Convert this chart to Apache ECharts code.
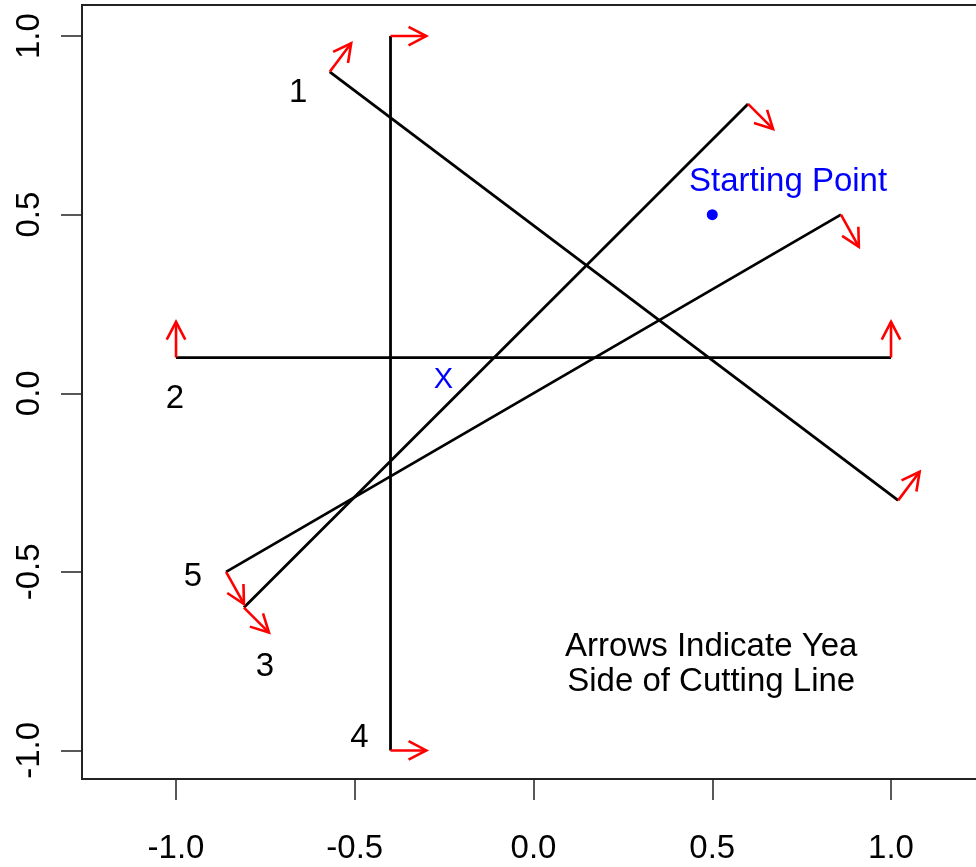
<!DOCTYPE html>
<html>
<head>
<meta charset="utf-8">
<script src="https://cdn.jsdelivr.net/npm/echarts@6/dist/echarts.min.js"></script>
<style>
html,body{margin:0;padding:0;background:#fff;}
#chart{width:976px;height:867px;}
</style>
</head>
<body>
<div id="chart"></div>
<script>
// Cutting lines: start / end points
var lineNames = ["1", "2", "3", "4", "5"];
var lineStartX = [-0.57, -1.00, -0.81, -0.40, -0.86];
var lineStartY = [ 0.90,  0.10, -0.60,  1.00, -0.50];
var lineEndX   = [ 1.02,  1.00,  0.60, -0.40,  0.86];
var lineEndY   = [-0.30,  0.10,  0.81, -1.00,  0.50];

// Arrows (Yea side): base point and tip point
var arrowBaseX = [-0.57,  1.02, -1.00, 1.00, -0.81, 0.60, -0.40, -0.40, -0.86, 0.86];
var arrowBaseY = [ 0.90, -0.30,  0.10, 0.10, -0.60, 0.81,  1.00, -1.00, -0.50, 0.50];
var arrowTipX  = [-0.51,  1.08, -1.00, 1.00, -0.74, 0.67, -0.30, -0.30, -0.81, 0.91];
var arrowTipY  = [ 0.98, -0.22,  0.20, 0.20, -0.67, 0.74,  1.00, -1.00, -0.59, 0.41];

// Line number labels
var labelX = [-0.658, -1.003, -0.751, -0.487, -0.953];
var labelY = [ 0.840, -0.016, -0.765, -0.965, -0.513];

// Starting point and annotations
var startPoint = [0.50, 0.50];
var noteTexts = ["Starting Point", "X", "Arrows Indicate Yea", "Side of Cutting Line"];
var noteX = [0.712, -0.252, 0.497, 0.497];
var noteY = [0.592, 0.036, -0.710, -0.808];
var noteColors = ["#0000ff", "#0000ff", "#000000", "#000000"];

// Tick values
var xTicks = [-1.0, -0.5, 0.0, 0.5, 1.0];
var yTicks = [-1.0, -0.5, 0.0, 0.5, 1.0];

var FONT = '"Liberation Sans", Arial, sans-serif';

var chart = echarts.init(document.getElementById('chart'), null, {renderer: 'canvas'});

var series = [];
for (var i = 0; i < lineNames.length; i++) {
  series.push({
    type: 'line',
    name: 'line' + lineNames[i],
    data: [[lineStartX[i], lineStartY[i]], [lineEndX[i], lineEndY[i]]],
    showSymbol: false,
    symbol: 'none',
    lineStyle: {color: '#000', width: 2.8},
    silent: true,
    animation: false,
    z: 3
  });
}

var arrowData = [];
for (var j = 0; j < arrowBaseX.length; j++) {
  arrowData.push([arrowBaseX[j], arrowBaseY[j], arrowTipX[j], arrowTipY[j]]);
}
series.push({
  type: 'custom',
  data: arrowData,
  encode: {x: [0, 2], y: [1, 3]},
  silent: true,
  animation: false,
  z: 4,
  renderItem: function (params, api) {
    var b = api.coord([api.value(0), api.value(1)]);
    var t = api.coord([api.value(2), api.value(3)]);
    var ang = Math.atan2(t[1] - b[1], t[0] - b[0]);
    var L = 20, a = Math.PI / 6.5;
    var h1 = [t[0] - L * Math.cos(ang - a), t[1] - L * Math.sin(ang - a)];
    var h2 = [t[0] - L * Math.cos(ang + a), t[1] - L * Math.sin(ang + a)];
    return {
      type: 'group',
      children: [
        {type: 'line', shape: {x1: b[0], y1: b[1], x2: t[0], y2: t[1]},
         style: {stroke: '#ff0000', lineWidth: 2.6}},
        {type: 'polyline', shape: {points: [h1, t, h2]},
         style: {stroke: '#ff0000', lineWidth: 2.6, fill: null}}
      ]
    };
  }
});

// line number labels
var labData = [];
for (var k = 0; k < lineNames.length; k++) {
  labData.push([labelX[k], labelY[k]]);
}
series.push({
  type: 'custom',
  data: labData,
  encode: {x: 0, y: 1},
  silent: true,
  animation: false,
  z: 5,
  renderItem: function (params, api) {
    var p = api.coord([api.value(0), api.value(1)]);
    return {
      type: 'text',
      style: {text: lineNames[params.dataIndex], x: p[0], y: p[1],
        fill: '#000', fontSize: 33, fontFamily: FONT,
        align: 'center', verticalAlign: 'middle'}
    };
  }
});

// notes
var noteData = [];
for (var m = 0; m < noteTexts.length; m++) {
  noteData.push([noteX[m], noteY[m]]);
}
series.push({
  type: 'custom',
  data: noteData,
  encode: {x: 0, y: 1},
  silent: true,
  animation: false,
  z: 5,
  renderItem: function (params, api) {
    var p = api.coord([api.value(0), api.value(1)]);
    var idx = params.dataIndex;
    return {
      type: 'text',
      style: {text: noteTexts[idx], x: p[0], y: p[1],
        fill: noteColors[idx], fontSize: idx === 1 ? 29 : 33, fontFamily: FONT,
        align: 'center', verticalAlign: 'middle'}
    };
  }
});

// starting point
series.push({
  type: 'scatter',
  data: [startPoint],
  symbol: 'circle',
  symbolSize: 11,
  itemStyle: {color: '#0000ff', opacity: 1},
  silent: true,
  animation: false,
  z: 6
});

var option = {
  animation: false,
  backgroundColor: '#fff',
  grid: {
    left: 82, top: 5, width: 896, height: 774,
    outerBoundsMode: 'none',
    containLabel: false,
    show: true, borderColor: '#222', borderWidth: 2, backgroundColor: 'transparent'
  },
  xAxis: {
    type: 'value',
    position: 'bottom',
    min: -1.263,
    max: 1.2433,
    axisLine: {show: false, onZero: false},
    splitLine: {show: false},
    axisTick: {show: true, length: 21, customValues: xTicks,
      lineStyle: {color: '#222', width: 1.5}},
    axisLabel: {show: true, customValues: xTicks, margin: 53,
      color: '#000', fontSize: 33, fontFamily: FONT,
      formatter: function (v) { return Number(v).toFixed(1); }}
  },
  yAxis: {
    type: 'value',
    position: 'left',
    min: -1.080,
    max: 1.087,
    axisLine: {show: false, onZero: false},
    splitLine: {show: false},
    axisTick: {show: true, length: 21, customValues: yTicks,
      lineStyle: {color: '#222', width: 1.5}},
    axisLabel: {show: true, customValues: yTicks, margin: 36, rotate: 90,
      color: '#000', fontSize: 33, fontFamily: FONT,
      formatter: function (v) { return Number(v).toFixed(1); }}
  },
  series: series
};
chart.setOption(option);
</script>
</body>
</html>
